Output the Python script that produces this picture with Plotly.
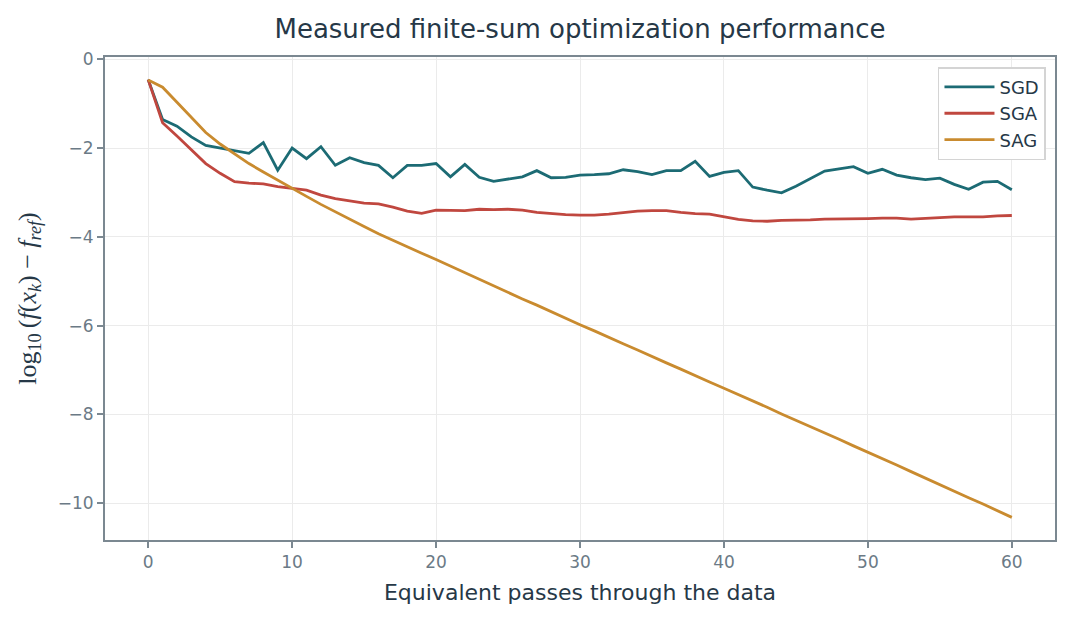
import plotly.graph_objects as go

# equivalent passes through the data
passes = list(range(61))

sgd = [-0.46, -1.36, -1.51, -1.75, -1.94, -2.00, -2.07, -2.12, -1.88, -2.50,
       -2.00, -2.24, -1.97, -2.39, -2.22, -2.33, -2.39, -2.67, -2.39, -2.39,
       -2.35, -2.65, -2.37, -2.66, -2.75, -2.70, -2.65, -2.51, -2.67, -2.66,
       -2.61, -2.60, -2.58, -2.49, -2.53, -2.60, -2.51, -2.51, -2.30, -2.64,
       -2.55, -2.51, -2.88, -2.95, -3.01, -2.86, -2.69, -2.52, -2.47, -2.42,
       -2.57, -2.48, -2.61, -2.67, -2.71, -2.68, -2.82, -2.93, -2.77, -2.75,
       -2.94]

sga = [-0.46, -1.43, -1.73, -2.05, -2.35, -2.57, -2.76, -2.79, -2.81, -2.87,
       -2.91, -2.95, -3.06, -3.14, -3.19, -3.24, -3.26, -3.33, -3.42, -3.47,
       -3.40, -3.40, -3.41, -3.38, -3.39, -3.38, -3.40, -3.45, -3.48, -3.50,
       -3.51, -3.51, -3.49, -3.45, -3.42, -3.41, -3.41, -3.45, -3.48, -3.49,
       -3.55, -3.61, -3.64, -3.65, -3.63, -3.63, -3.62, -3.60, -3.60, -3.60,
       -3.59, -3.58, -3.58, -3.60, -3.58, -3.57, -3.55, -3.55, -3.55, -3.53,
       -3.52]

sag = [-0.47, -0.63, -0.97, -1.32, -1.65, -1.91, -2.14, -2.35, -2.54, -2.73,
       -2.91, -3.09, -3.27, -3.44, -3.61, -3.77, -3.93, -4.08, -4.23, -4.37,
       -4.51, -4.66, -4.81, -4.95, -5.10, -5.25, -5.40, -5.54, -5.69, -5.83,
       -5.98, -6.12, -6.27, -6.41, -6.55, -6.70, -6.84, -6.98, -7.13, -7.27,
       -7.41, -7.55, -7.70, -7.84, -7.99, -8.13, -8.27, -8.42, -8.56, -8.71,
       -8.85, -9.00, -9.14, -9.29, -9.44, -9.58, -9.73, -9.88, -10.02, -10.17,
       -10.32]

series = [('SGD', sgd, '#1c6b74'),
          ('SGA', sga, '#c0473f'),
          ('SAG', sag, '#c98b2f')]

fig = go.Figure()
for name, vals, color in series:
    fig.add_trace(go.Scatter(x=passes, y=vals, name=name, mode='lines',
                             line=dict(color=color, width=2.8)))

axis_color = '#7b8891'
text_color = '#263847'
tick_font = dict(family='DejaVu Sans', size=17, color='#6b7a86')

# the page body adds an 8px offset, margins below account for it
fig.update_layout(
    width=1073, height=623,
    paper_bgcolor='white', plot_bgcolor='white',
    margin=dict(l=97, r=26, t=49, b=91),
    title=dict(text='Measured finite-sum optimization performance',
               xref='paper', x=0.5, xanchor='center',
               yref='container', y=0.966, yanchor='middle',
               font=dict(family='DejaVu Sans', size=26, color=text_color)),
    font=dict(family='DejaVu Sans', color=text_color),
    legend=dict(x=0.9905, y=0.979, xanchor='right', yanchor='top',
                bgcolor='white', bordercolor='#d4d4d4', borderwidth=1.5,
                itemwidth=50, tracegroupgap=4,
                font=dict(family='DejaVu Sans', size=18, color=text_color)),
    xaxis=dict(
        range=[-3, 63], tickvals=[0, 10, 20, 30, 40, 50, 60],
        showline=True, linecolor=axis_color, linewidth=2, mirror=True,
        ticks='outside', ticklen=6, tickwidth=2, tickcolor=axis_color,
        showgrid=True, gridcolor='#ebebeb', zeroline=False,
        tickfont=tick_font, automargin=False,
        title=dict(text='Equivalent passes through the data',
                   font=dict(family='DejaVu Sans', size=22, color=text_color),
                   standoff=13),
    ),
    yaxis=dict(
        range=[-10.83, 0.05], tickvals=[0, -2, -4, -6, -8, -10],
        ticktext=['0', '\u22122', '\u22124', '\u22126', '\u22128', '\u221210'],
        showline=True, linecolor=axis_color, linewidth=2, mirror=True,
        ticks='outside', ticklen=6, tickwidth=2, tickcolor=axis_color,
        showgrid=True, gridcolor='#ebebeb', zeroline=False,
        tickfont=tick_font, automargin=False,
        title=dict(text='log<sub>10</sub>\u2009(<i>f</i>(<i>x<sub>k</sub></i>)'
                        ' \u2212 <i>f<sub>ref</sub></i>)',
                   font=dict(family='Liberation Serif', size=26,
                             color=text_color),
                   standoff=14),
    ),
)

fig.write_html('out.html')
